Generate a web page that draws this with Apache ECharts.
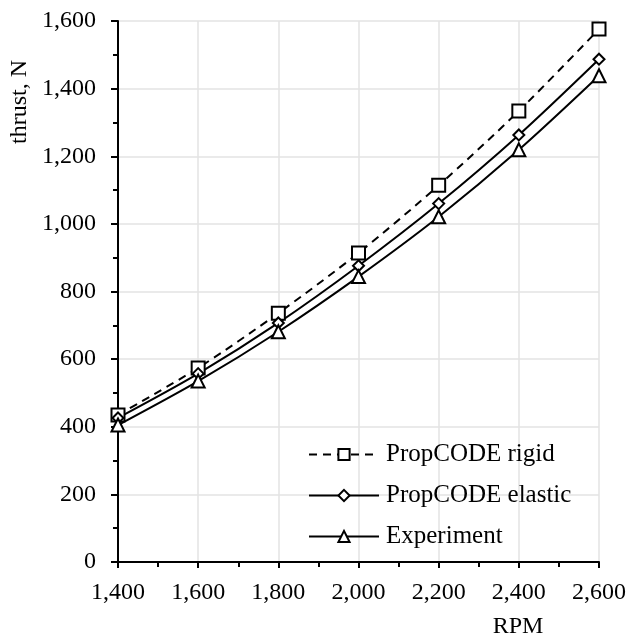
<!DOCTYPE html>
<html><head><meta charset="utf-8">
<script src="https://cdn.jsdelivr.net/npm/echarts@6/dist/echarts.min.js"></script>
<style>html,body{margin:0;padding:0;background:#fff}#c{width:629px;height:637px}</style>
</head><body><div id="c"></div>
<script>
const rpm = [1400, 1600, 1800, 2000, 2200, 2400, 2600];
const rigid = [435, 574, 736, 914, 1114, 1334, 1576];
const elastic = [426, 557, 707, 876, 1060, 1263, 1487];
const experiment = [405, 535, 681, 844, 1021, 1219, 1438];
const seriesNames = ['PropCODE rigid', 'PropCODE elastic', 'Experiment'];
const yTicks = [0, 200, 400, 600, 800, 1000, 1200, 1400, 1600];
const xTicks = [1400, 1600, 1800, 2000, 2200, 2400, 2600];

const font = 'Liberation Serif';
const fmt = v => v.toLocaleString('en-US');
const pairs = arr => rpm.map((x, i) => [x, arr[i]]);

const chart = echarts.init(document.getElementById('c'), null, {renderer: 'canvas'});
function mk(name, data, symbol, size, dashed) {
  return {
    name, type: 'line', data: pairs(data), smooth: 0.3,
    symbol, symbolSize: size, showSymbol: true,
    lineStyle: {color: '#000', width: 2, type: dashed ? [8, 6] : 'solid'},
    itemStyle: {color: '#fff', borderColor: '#000', borderWidth: 2},
    emphasis: {disabled: true}, z: 3
  };
}
chart.setOption({
  animation: false,
  backgroundColor: '#fff',
  grid: {left: 118, right: 29, top: 21, bottom: 75, containLabel: false},
  xAxis: {
    type: 'value', min: xTicks[0], max: xTicks[xTicks.length - 1], interval: 200,
    axisLine: {show: true, onZero: false, lineStyle: {color: '#000', width: 2}},
    axisTick: {show: true, inside: false, length: 6, lineStyle: {color: '#000', width: 2}},
    minorTick: {show: true, splitNumber: 2, length: 5, lineStyle: {color: '#000', width: 2}},
    splitLine: {show: true, lineStyle: {color: '#e3e3e3', width: 1.5}},
    axisLabel: {color: '#000', fontFamily: font, fontSize: 24, margin: 19, formatter: fmt}
  },
  yAxis: {
    type: 'value', min: yTicks[0], max: yTicks[yTicks.length - 1], interval: 200,
    axisLine: {show: true, lineStyle: {color: '#000', width: 2}},
    axisTick: {show: true, inside: false, length: 7, lineStyle: {color: '#000', width: 2}},
    minorTick: {show: true, splitNumber: 2, length: 5, lineStyle: {color: '#000', width: 2}},
    splitLine: {show: true, lineStyle: {color: '#e3e3e3', width: 1.5}},
    axisLabel: {color: '#000', fontFamily: font, fontSize: 24, margin: 22, formatter: fmt}
  },
  legend: {
    orient: 'vertical', left: 303, top: 437, itemGap: 16,
    itemWidth: 70, itemHeight: 14,
    textStyle: {color: '#000', fontFamily: font, fontSize: 25, padding: [0, 0, 0, 2]},
    data: seriesNames
  },
  graphic: [
    {type: 'text', x: 20, y: 102, rotation: Math.PI / 2,
     style: {text: 'thrust, N', font: '24px "Liberation Serif"', fill: '#000', align: 'center', verticalAlign: 'middle'}},
    {type: 'text', x: 518, y: 627,
     style: {text: 'RPM', font: '24px "Liberation Serif"', fill: '#000', align: 'center', verticalAlign: 'middle'}}
  ],
  series: [
    mk(seriesNames[0], rigid, 'rect', 13, true),
    mk(seriesNames[1], elastic, 'diamond', 11, false),
    mk(seriesNames[2], experiment, 'triangle', 13, false)
  ]
});
</script></body></html>
